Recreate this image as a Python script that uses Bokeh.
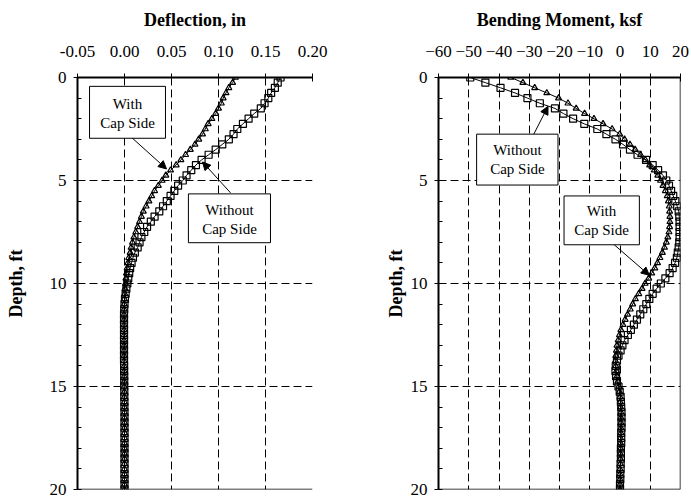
from bokeh.plotting import figure
from bokeh.layouts import row
from bokeh.models import (Range1d, FixedTicker, Span, Label, Arrow, NormalHead,
                          BoxAnnotation, NumeralTickFormatter)
from bokeh.embed import file_html
from bokeh.resources import INLINE

# ---------------- data ----------------
depth_ft = [0, 0.25, 0.5, 0.75, 1, 1.25, 1.5, 1.75, 2, 2.25, 2.5, 2.75, 3, 3.25, 3.5, 3.75,
            4, 4.25, 4.5, 4.75, 5, 5.25, 5.5, 5.75, 6, 6.25, 6.5, 6.75, 7, 7.25, 7.5, 7.75,
            8, 8.25, 8.5, 8.75, 9, 9.25, 9.5, 9.75, 10, 10.25, 10.5, 10.75, 11, 11.25, 11.5, 11.75,
            12, 12.25, 12.5, 12.75, 13, 13.25, 13.5, 13.75, 14, 14.25, 14.5, 14.75, 15, 15.25, 15.5, 15.75,
            16, 16.25, 16.5, 16.75, 17, 17.25, 17.5, 17.75, 18, 18.25, 18.5, 18.75, 19, 19.25, 19.5, 19.75, 20]

defl_with_cap = [0.118, 0.115, 0.111, 0.108, 0.105, 0.103, 0.100, 0.097, 0.093, 0.089, 0.086, 0.083,
                 0.079, 0.075, 0.070, 0.065, 0.060, 0.055, 0.049, 0.044, 0.040, 0.036, 0.032, 0.029,
                 0.026, 0.023, 0.020, 0.018, 0.016, 0.014, 0.012, 0.010, 0.0085, 0.007, 0.006, 0.0045,
                 0.0035, 0.0028, 0.002, 0.0015, 0.001, 0.0006, 0.0003, 0.0, -0.0002, -0.0004, -0.0005, -0.0005,
                 -0.0005, -0.0005, -0.0005, -0.0005, -0.0005, -0.0005, -0.0005, -0.0005, -0.0004, -0.0004, -0.0003, -0.0003,
                 -0.0003, -0.0002, -0.0002, -0.0001, -0.0001, 0.0, 0.0, 0.0, 0.0, 0.0, 0.0, 0.0,
                 0.0, 0.0, 0.0, 0.0, 0.0, 0.0, 0.0, 0.0, 0.0]

defl_without_cap = [0.166, 0.163, 0.160, 0.156, 0.153, 0.149, 0.145, 0.138, 0.132, 0.126, 0.120, 0.116,
                    0.111, 0.104, 0.097, 0.0895, 0.082, 0.076, 0.071, 0.066, 0.062, 0.057, 0.053, 0.049,
                    0.045, 0.041, 0.037, 0.032, 0.028, 0.024, 0.021, 0.018, 0.016, 0.014, 0.011, 0.009,
                    0.0075, 0.006, 0.005, 0.004, 0.003, 0.002, 0.0012, 0.0005, 0.0, -0.0003, -0.0005, -0.0005,
                    -0.0005, -0.0005, -0.0005, -0.0005, -0.0005, -0.0005, -0.0005, -0.0005, -0.0004, -0.0004, -0.0003, -0.0003,
                    -0.0003, -0.0002, -0.0002, -0.0001, -0.0001, 0.0, 0.0, 0.0, 0.0, 0.0, 0.0, 0.0,
                    0.0, 0.0, 0.0, 0.0, 0.0, 0.0, 0.0, 0.0, 0.0]

moment_with_cap = [-36.1, -32.1, -28.2, -24.2, -20.3, -17.2, -14.5, -11.7, -8.6, -5.6, -2.6, -0.1,
                   1.5, 3.3, 5.0, 6.8, 8.4, 9.8, 11.3, 12.5, 13.4, 14.2, 15.0, 15.6,
                   16.0, 16.3, 16.4, 16.5, 16.5, 16.4, 16.2, 15.8, 15.3, 14.7, 14.0, 13.2,
                   12.4, 11.5, 10.5, 9.5, 8.3, 7.3, 6.2, 5.1, 4.2, 3.4, 2.5, 1.7,
                   1.0, 0.3, -0.2, -0.6, -1.0, -1.2, -1.4, -1.5, -1.4, -1.2, -1.0, -0.7,
                   -0.4, -0.2, 0.0, 0.1, 0.2, 0.3, 0.3, 0.3, 0.3, 0.3, 0.2, 0.2,
                   0.2, 0.1, 0.1, 0.1, 0.0, 0.0, 0.0, 0.0, 0.0]

moment_without_cap = [-49.5, -44.5, -39.5, -34.7, -30.6, -26.5, -21.5, -18.7, -15.5, -11.8, -7.5, -4.5,
                      -1.5, 1.0, 3.3, 5.8, 8.6, 10.8, 12.6, 14.2, 15.3, 16.2, 16.9, 17.6,
                      18.3, 18.9, 19.4, 19.6, 19.7, 19.7, 19.7, 19.7, 19.6, 19.4, 19.1, 18.8,
                      18.2, 17.4, 16.4, 15.0, 13.5, 12.1, 10.8, 9.7, 8.7, 7.7, 6.7, 5.6,
                      4.6, 3.6, 2.6, 1.5, 0.8, 0.2, -0.5, -1.0, -1.4, -1.5, -1.3, -1.0,
                      -0.5, -0.1, 0.2, 0.3, 0.4, 0.5, 0.5, 0.5, 0.5, 0.4, 0.4, 0.4,
                      0.3, 0.3, 0.3, 0.2, 0.2, 0.1, 0.1, 0.0, 0.0]

defl_ticks = [-0.05, 0.0, 0.05, 0.10, 0.15, 0.20]
moment_ticks = [-60, -50, -40, -30, -20, -10, 0, 10, 20]
depth_ticks = [0, 5, 10, 15, 20]
depth_minor = list(range(21))

FONT = "Liberation Serif"
H = 499


def make_fig(width, mleft, mright, xr, xticks, xlabel, ylabel_standoff):
    p = figure(width=width, height=H, output_backend="svg", toolbar_location=None,
               x_range=Range1d(xr[0], xr[1]), y_range=Range1d(20, 0),
               x_axis_location="above",
               min_border_left=mleft, min_border_right=mright,
               min_border_top=77, min_border_bottom=10)
    p.outline_line_color = None
    # x axis (top)
    xa = p.xaxis[0]
    xa.ticker = FixedTicker(ticks=xticks, minor_ticks=[])
    xa.axis_label = xlabel
    xa.axis_label_text_font = FONT
    xa.axis_label_text_font_style = "bold"
    xa.axis_label_text_font_size = "18px"
    xa.axis_label_standoff = 13
    xa.major_label_text_font = FONT
    xa.major_label_text_font_size = "17px"
    xa.major_label_standoff = 17
    xa.major_tick_in = 4
    xa.major_tick_out = 4
    xa.minor_tick_in = 0
    xa.minor_tick_out = 0
    xa.axis_line_width = 2
    xa.axis_line_color = "black"
    xa.major_tick_line_color = "black"
    xa.major_label_text_color = "black"
    xa.axis_label_text_color = "black"
    # y axis (left)
    ya = p.yaxis[0]
    ya.ticker = FixedTicker(ticks=depth_ticks, minor_ticks=depth_minor)
    ya.axis_label = "Depth, ft"
    ya.axis_label_text_font = FONT
    ya.axis_label_text_font_style = "bold"
    ya.axis_label_text_font_size = "18px"
    ya.axis_label_standoff = ylabel_standoff
    ya.major_label_text_font = FONT
    ya.major_label_text_font_size = "17px"
    ya.major_label_standoff = 7
    ya.major_tick_in = 0
    ya.major_tick_out = 4
    ya.minor_tick_in = 4
    ya.minor_tick_out = 0
    ya.axis_line_width = 2
    ya.axis_line_color = "black"
    ya.major_tick_line_color = "black"
    ya.minor_tick_line_color = "black"
    ya.major_label_text_color = "black"
    ya.axis_label_text_color = "black"
    # grids
    p.xgrid.ticker = FixedTicker(ticks=xticks, minor_ticks=[])
    p.ygrid.ticker = FixedTicker(ticks=depth_ticks, minor_ticks=[])
    for g in (p.xgrid[0], p.ygrid[0]):
        g.grid_line_color = "black"
        g.grid_line_dash = "8 4"
        g.grid_line_width = 1
    p.add_layout(Span(location=20, dimension="width", line_color="black", line_width=1.5))
    return p


def add_box(p, left, right, top, bottom, lines, xc, ys):
    p.add_layout(BoxAnnotation(left=left, right=right, top=top, bottom=bottom,
                               fill_color="white", fill_alpha=1.0,
                               line_color="black", line_width=1, line_alpha=1.0))
    for t, yy in zip(lines, ys):
        p.add_layout(Label(x=xc, y=yy, text=t, text_font=FONT, text_font_size="15px",
                           text_align="center", text_baseline="middle", text_color="black"))


def add_arrow(p, xs, ys, xe, ye):
    p.add_layout(Arrow(x_start=xs, y_start=ys, x_end=xe, y_end=ye, line_color="black", line_width=1,
                       end=NormalHead(size=8, fill_color="black", line_color="black")))


def add_series(p, xvals, marker, size):
    p.line(xvals, depth_ft, line_color="black", line_width=1)
    p.scatter(xvals, depth_ft, marker=marker, size=size, fill_color=None,
              line_color="black", line_width=1.2)


# ---------------- left: deflection ----------------
p1 = make_fig(343, 77, 31, (-0.05, 0.20), defl_ticks, "Deflection, in", 21)
p1.xaxis[0].formatter = NumeralTickFormatter(format="0.00")
add_series(p1, defl_with_cap, "triangle", 6)
add_series(p1, defl_without_cap, "square", 7)
add_box(p1, -0.0372, 0.0436, 0.43, 2.95, ["With", "Cap Side"], 0.0032, [1.3, 2.2])
add_arrow(p1, 0.0085, 2.95, 0.0447, 4.44)
add_box(p1, 0.068, 0.1553, 5.65, 8.02, ["Without", "Cap Side"], 0.1117, [6.42, 7.34])
add_arrow(p1, 0.1128, 5.6, 0.083, 4.1)

# ---------------- right: bending moment ----------------
p2 = make_fig(348, 95, 11, (-60, 20), moment_ticks, "Bending Moment, ksf", 2)
p2.add_layout(Span(location=20, dimension="height", line_color="black", line_width=1.5))
add_series(p2, moment_with_cap, "triangle", 6)
add_series(p2, moment_without_cap, "square", 7)
add_box(p2, -47.4, -20.5, 2.75, 5.22, ["Without", "Cap Side"], -33.9, [3.53, 4.44])
add_arrow(p2, -28.5, 2.75, -23.8, 1.4)
add_box(p2, -18.5, 6.4, 5.75, 8.12, ["With", "Cap Side"], -6.1, [6.47, 7.39])
add_arrow(p2, -1.9, 8.12, 9.7, 9.6)

layout = row(p1, p2)
open("out.html", "w").write(file_html(layout, INLINE))
